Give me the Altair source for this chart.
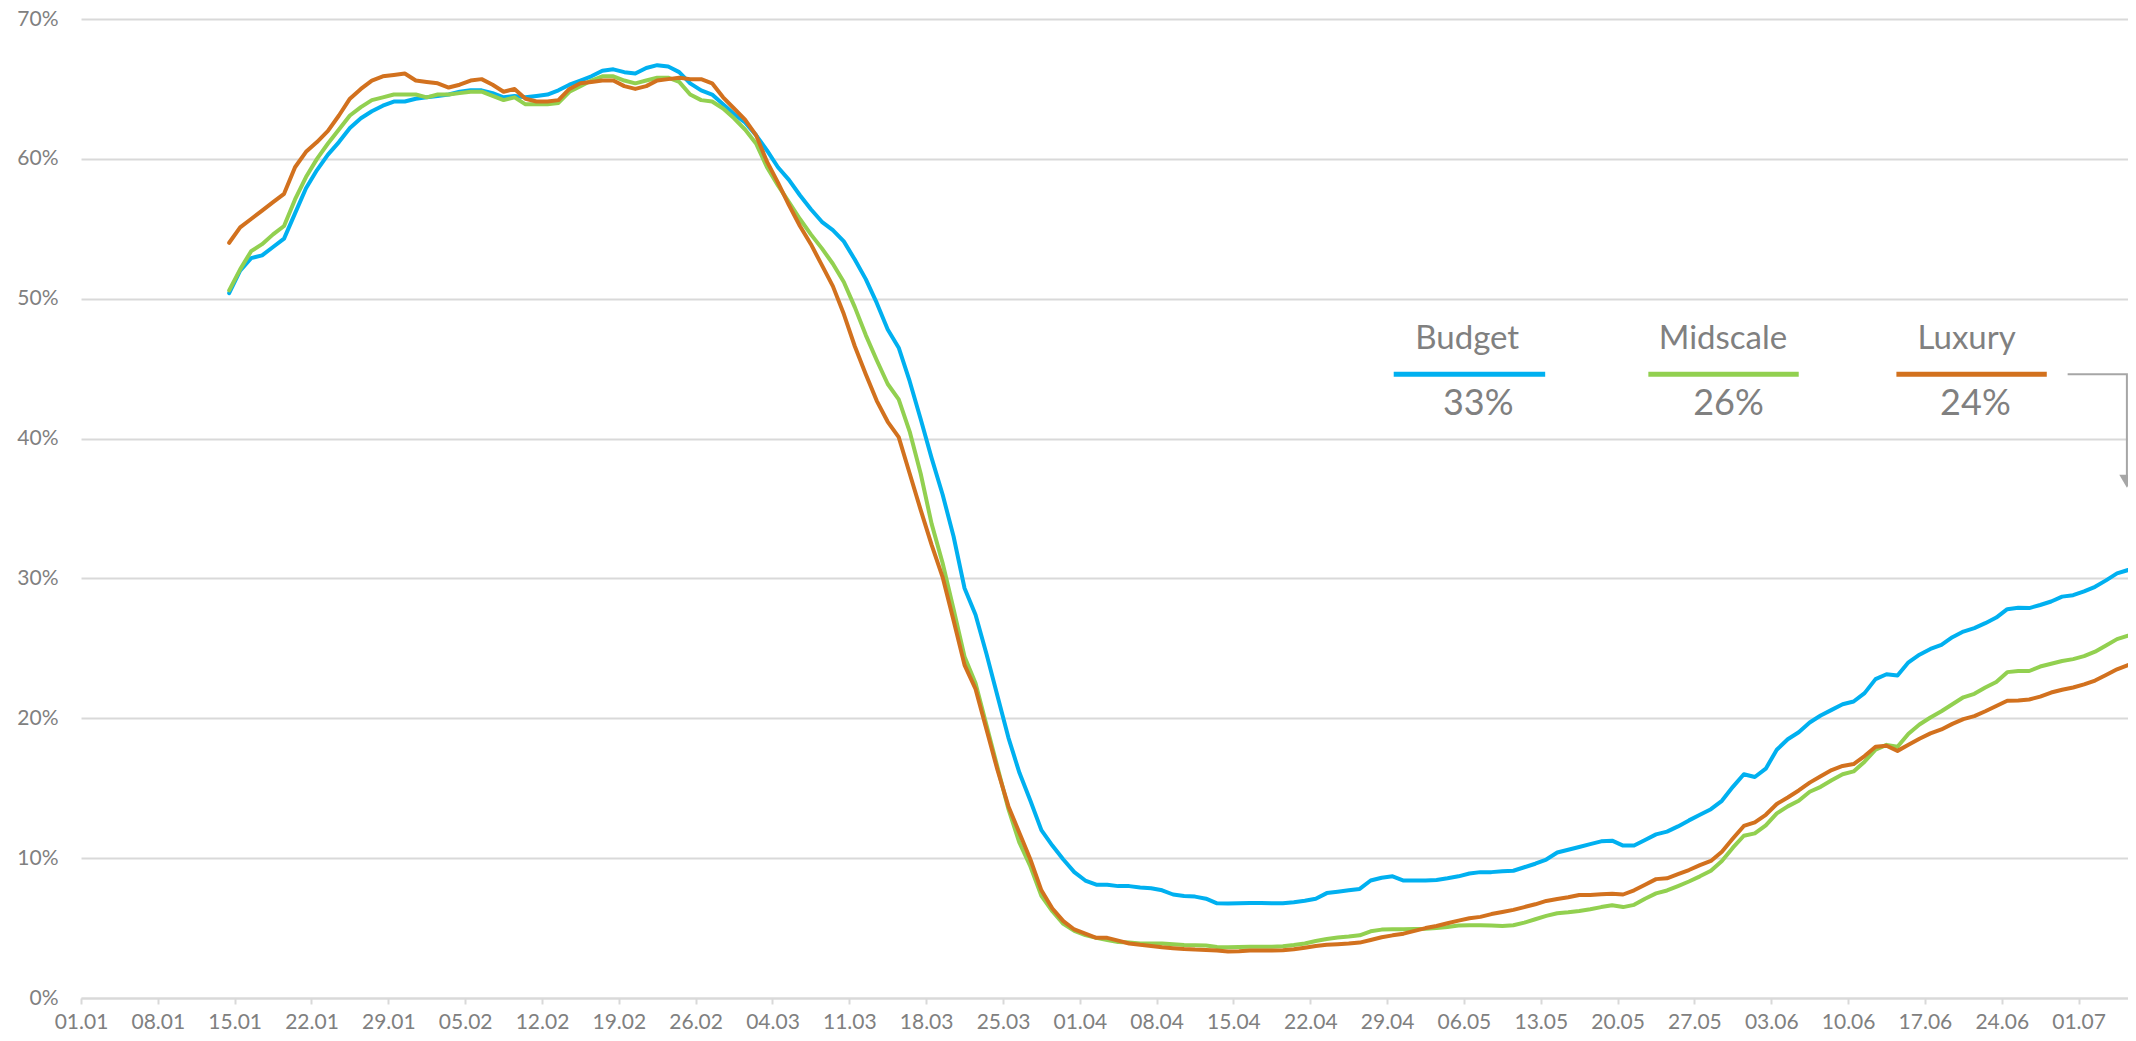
import altair as alt
import pandas as pd

# ---- data: daily occupancy (%) from 14.01.2020 to 05.07.2020 ----
start_date = "2020-01-14"

budget = [
    50.4, 52.0, 52.9, 53.1, 53.7, 54.3, 56.1, 57.9, 59.2, 60.3, 61.2, 62.2, 62.9, 63.4, 63.8,
    64.1, 64.1, 64.3, 64.4, 64.5, 64.6, 64.8, 64.9, 64.9, 64.7, 64.4, 64.5, 64.4, 64.5, 64.6,
    64.9, 65.3, 65.6, 65.9, 66.3, 66.4, 66.2, 66.1, 66.5, 66.7, 66.6, 66.2, 65.4, 64.9, 64.6,
    63.9, 63.2, 62.6, 61.7, 60.6, 59.4, 58.5, 57.4, 56.4, 55.5, 54.9, 54.1, 52.8, 51.4, 49.7,
    47.8, 46.5, 44.1, 41.4, 38.6, 36.0, 33.0, 29.3, 27.4, 24.6, 21.6, 18.6, 16.1, 14.1, 12.0,
    10.9, 9.9, 9.0, 8.4, 8.1,
    8.1, 8.0, 8.0, 7.9, 7.85, 7.7, 7.4, 7.3, 7.25, 7.1, 6.77, 6.75, 6.77, 6.8, 6.8, 6.77,
    6.77, 6.85, 6.96, 7.1, 7.5, 7.6, 7.7, 7.8, 8.4, 8.6, 8.7, 8.4, 8.4, 8.4, 8.44, 8.56, 8.7,
    8.9, 9.0, 9.0, 9.06, 9.1, 9.35, 9.6, 9.9, 10.4, 10.6, 10.8, 11.0, 11.2, 11.25,
    10.9, 10.9, 11.3, 11.7, 11.9, 12.27, 12.7, 13.1, 13.5, 14.1, 15.1, 16.0, 15.8, 16.4, 17.75,
    18.5, 19.0, 19.7, 20.2, 20.6, 21.0, 21.2, 21.8, 22.8, 23.15, 23.06, 24.0, 24.55, 24.96,
    25.25, 25.8, 26.2, 26.45, 26.8, 27.2, 27.8, 27.9, 27.88, 28.1, 28.35, 28.7, 28.8, 29.07,
    29.4, 29.86, 30.36, 30.6,
]

midscale = [
    50.6, 52.1, 53.4, 53.9, 54.6, 55.2, 57.1, 58.7, 60.0, 61.1, 62.1, 63.1, 63.7, 64.2, 64.4,
    64.6, 64.6, 64.6, 64.4, 64.6, 64.6, 64.7, 64.8, 64.8, 64.5, 64.2, 64.4, 63.9, 63.9, 63.9,
    64.0, 64.8, 65.2, 65.6, 65.9, 65.9, 65.6, 65.4, 65.6, 65.8, 65.8, 65.5, 64.6, 64.2, 64.1,
    63.6, 62.9, 62.1, 61.1, 59.4, 58.1, 56.9, 55.7, 54.6, 53.6, 52.5, 51.2, 49.4, 47.4, 45.6,
    43.9, 42.8, 40.5, 37.5, 33.9, 31.1, 27.8, 24.4, 22.5, 19.5, 16.5, 13.5, 11.1, 9.4, 7.3,
    6.2, 5.3, 4.8, 4.5, 4.3,
    4.15, 4.0, 3.96, 3.9, 3.9, 3.9, 3.84, 3.79, 3.77, 3.75, 3.65, 3.63, 3.65, 3.67, 3.67, 3.67,
    3.7, 3.79, 3.9, 4.08, 4.22, 4.32, 4.39, 4.48, 4.77, 4.89, 4.91, 4.91, 4.94, 4.96, 5.0, 5.08,
    5.18, 5.2, 5.2, 5.18, 5.15, 5.2, 5.39, 5.63, 5.87, 6.06, 6.13, 6.22, 6.34, 6.5, 6.63,
    6.5, 6.66, 7.1, 7.48, 7.69, 8.0, 8.33, 8.7, 9.1, 9.8, 10.75, 11.6, 11.77, 12.35, 13.2,
    13.7, 14.1, 14.75, 15.1, 15.57, 16.0, 16.2, 16.9, 17.75, 18.1, 17.96, 18.9, 19.56, 20.06,
    20.5, 21.0, 21.5, 21.75, 22.2, 22.6, 23.3, 23.38, 23.38, 23.7, 23.9, 24.1, 24.23, 24.44,
    24.76, 25.2, 25.66, 25.9,
]

luxury = [
    54.0, 55.1, 55.7, 56.3, 56.9, 57.5, 59.4, 60.5, 61.2, 62.0, 63.1, 64.3, 65.0, 65.6, 65.9,
    66.0, 66.1, 65.6, 65.5, 65.4, 65.1, 65.3, 65.6, 65.7, 65.3, 64.8, 65.0, 64.3, 64.1, 64.1,
    64.2, 65.0, 65.4, 65.5, 65.6, 65.6, 65.2, 65.0, 65.2, 65.6, 65.7, 65.8, 65.7, 65.7, 65.4,
    64.4, 63.6, 62.8, 61.7, 59.8, 58.3, 56.7, 55.2, 53.9, 52.4, 50.9, 48.9, 46.6, 44.6, 42.7,
    41.2, 40.1, 37.5, 34.9, 32.4, 30.1, 27.0, 23.8, 22.1, 19.2, 16.3, 13.7, 11.8, 9.9, 7.7,
    6.4, 5.5, 4.9, 4.6, 4.3,
    4.3, 4.1, 3.9, 3.8, 3.72, 3.63, 3.56, 3.5, 3.46, 3.44, 3.39, 3.32, 3.34, 3.39, 3.39, 3.39,
    3.41, 3.48, 3.6, 3.72, 3.8, 3.84, 3.89, 3.96, 4.15, 4.34, 4.48, 4.6, 4.8, 5.0, 5.15, 5.34,
    5.53, 5.7, 5.8, 6.0, 6.15, 6.3, 6.5, 6.7, 6.94, 7.08, 7.2, 7.37, 7.37, 7.42, 7.46,
    7.4, 7.7, 8.1, 8.5, 8.56, 8.85, 9.15, 9.5, 9.8, 10.46, 11.4, 12.3, 12.56, 13.1, 13.87,
    14.34, 14.84, 15.4, 15.86, 16.3, 16.59, 16.73, 17.3, 17.96, 18.04, 17.67, 18.1, 18.54,
    18.92, 19.2, 19.6, 19.94, 20.15, 20.5, 20.88, 21.25, 21.28, 21.34, 21.55, 21.84, 22.04,
    22.2, 22.42, 22.7, 23.1, 23.5, 23.8,
]

segments = ["Budget", "Midscale", "Luxury"]
seg_colors = ["#00B0F0", "#92D050", "#D2711E"]
final_labels = ["33%", "26%", "24%"]

y_ticks = [0, 10, 20, 30, 40, 50, 60, 70]
x_tick_dates = pd.date_range("2020-01-01", "2020-07-01", freq="7D")

# annotation anchors in data space (days after 01.01, value in %)
name_days = [126.3, 149.6, 171.8]
pct_days = [127.3, 150.1, 172.6]
key_start_days = [119.6, 142.8, 165.4]
key_end_days = [133.4, 156.5, 179.1]
name_value = 46.4
pct_value = 41.7
key_value = 44.6
connector_days = [181.0, 186.4, 186.4]
connector_values = [44.6, 44.6, 37.4]
arrow_day = 186.4
arrow_value = 36.95

# ---- tables ----
n = len(budget)
dates = pd.date_range(start_date, periods=n, freq="D")
df = pd.DataFrame({
    "date": list(dates) * 3,
    "value": budget + midscale + luxury,
    "segment": ["Budget"] * n + ["Midscale"] * n + ["Luxury"] * n,
})

base = pd.Timestamp("2020-01-01")


def to_t(days):
    return [(base + pd.to_timedelta(d, unit="D")).round("min") for d in days]


names_df = pd.DataFrame({"date": to_t(name_days), "value": [name_value] * 3, "label": segments})
pct_df = pd.DataFrame({"date": to_t(pct_days), "value": [pct_value] * 3, "label": final_labels})
keys_df = pd.DataFrame({
    "date": to_t(key_start_days), "date_end": to_t(key_end_days),
    "value": [key_value] * 3, "segment": segments,
})
conn_df = pd.DataFrame({"date": to_t(connector_days), "value": connector_values, "order": [0, 1, 2]})
arrow_df = pd.DataFrame({"date": to_t([arrow_day]), "value": [arrow_value]})

FONT = "Lato"
GRAY = "#808080"

x_scale = alt.Scale(domain=[alt.DateTime(year=2020, month=1, date=1),
                            alt.DateTime(year=2020, month=7, date=5, hours=12)])
y_scale = alt.Scale(domain=[0, 70], nice=False)
color_scale = alt.Scale(domain=segments, range=seg_colors)

x_axis = alt.Axis(
    values=[alt.DateTime(year=d.year, month=d.month, date=d.day) for d in x_tick_dates],
    format="%d.%m", formatType="time", title=None, grid=False,
    domain=True, domainColor="#D9D9D9", domainWidth=2,
    ticks=True, tickColor="#D9D9D9", tickWidth=2, tickSize=6,
    labelFont=FONT, labelFontSize=21, labelColor=GRAY, labelPadding=7,
    labelOverlap=False, labelFlush=False,
)
y_axis = alt.Axis(
    values=y_ticks, labelExpr="datum.value + '%'", title=None,
    grid=True, gridColor="#D9D9D9", gridWidth=2,
    domain=False, ticks=False, tickSize=0,
    labelFont=FONT, labelFontSize=21, labelColor=GRAY, labelPadding=23,
)

lines = alt.Chart(df).mark_line(strokeWidth=4, strokeJoin="round", strokeCap="round").encode(
    x=alt.X("date:T", timeUnit="yearmonthdate", bandPosition=0.5, scale=x_scale, axis=x_axis),
    y=alt.Y("value:Q", scale=y_scale, axis=y_axis),
    color=alt.Color("segment:N", scale=color_scale, legend=None),
    detail="segment:N",
)

keys = alt.Chart(keys_df).mark_rule(strokeWidth=5).encode(
    x=alt.X("date:T", title=None),
    x2="date_end:T",
    y=alt.Y("value:Q", title=None),
    color=alt.Color("segment:N", scale=color_scale, legend=None),
)

names = alt.Chart(names_df).mark_text(
    font=FONT, fontSize=33, color=GRAY, align="center", baseline="alphabetic"
).encode(x=alt.X("date:T", title=None), y=alt.Y("value:Q", title=None), text="label:N")

pcts = alt.Chart(pct_df).mark_text(
    font=FONT, fontSize=36, color=GRAY, align="center", baseline="alphabetic"
).encode(x=alt.X("date:T", title=None), y=alt.Y("value:Q", title=None), text="label:N")

conn = alt.Chart(conn_df).mark_line(color="#A6A6A6", strokeWidth=2).encode(
    x=alt.X("date:T", title=None), y=alt.Y("value:Q", title=None), order="order:Q"
)

arrow = alt.Chart(arrow_df).mark_point(
    shape="triangle-down", size=230, filled=True, color="#A6A6A6", opacity=1
).encode(x=alt.X("date:T", title=None), y=alt.Y("value:Q", title=None))

chart = alt.layer(lines, keys, names, pcts, conn, arrow).properties(
    width=2047, height=979,
    autosize=alt.AutoSizeParams(type="none"),
    padding={"left": 73, "top": 11, "right": 0, "bottom": 40},
    background="white",
).configure_view(stroke=None)

chart.save("out.html", embed_options={"renderer": "svg", "actions": False})
